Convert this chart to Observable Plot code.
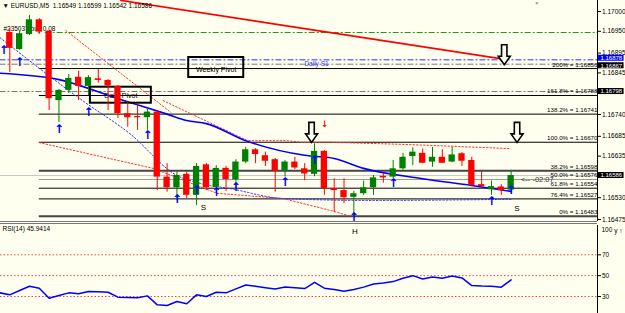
<!DOCTYPE html>
<html><head><meta charset="utf-8">
<script src="https://cdn.jsdelivr.net/npm/d3@7"></script>
<script src="https://cdn.jsdelivr.net/npm/@observablehq/plot@0.6"></script>
<style>
body{margin:0;background:#fffff0;width:625px;height:313px;overflow:hidden;font-family:"Liberation Sans",Arial,sans-serif;position:relative}
#main,#rsi{position:absolute;left:0}
#main{top:0}
#rsi{top:225px}
#sep{position:absolute;left:0;top:221px;width:597px;height:0;border-top:3px double #777}
svg{overflow:visible}
</style></head><body>
<div id="main"></div><div id="sep"></div><div id="rsi"></div>
<script>
// ---------- data ----------
const barIndex = [0,1,2,3,4,5,6,7,8,9,10,11,12,13,14,15,16,17,18,19,20,21,22,23,24,25,26,27,28,29,30,31,32,33,34,35,36,37,38,39,40,41,42,43,44,45,46,47,48,49,50,51];
const openP  = [1.16947,1.16904,1.16942,1.16979,1.16950,1.16775,1.16801,1.16834,1.16811,1.16830,1.16826,1.16811,1.16742,1.16735,1.16732,1.16746,1.16582,1.16555,1.16589,1.16536,1.16613,1.16556,1.16604,1.16575,1.16620,1.16651,1.16636,1.16626,1.16599,1.16620,1.16603,1.16589,1.16647,1.16553,1.16548,1.16531,1.16540,1.16555,1.16584,1.16582,1.16603,1.16634,1.16642,1.16620,1.16632,1.16620,1.16641,1.16624,1.16563,1.16550,1.16557,1.16549];
const highP  = [1.16957,1.16950,1.16990,1.16982,1.16952,1.16803,1.16841,1.16849,1.16838,1.16854,1.16828,1.16813,1.16771,1.16768,1.16755,1.16748,1.16616,1.16594,1.16594,1.16616,1.16616,1.16611,1.16609,1.16626,1.16657,1.16654,1.16645,1.16629,1.16624,1.16632,1.16616,1.16666,1.16649,1.16578,1.16578,1.16546,1.16572,1.16586,1.16591,1.16624,1.16642,1.16656,1.16653,1.16657,1.16651,1.16657,1.16644,1.16632,1.16599,1.16572,1.16563,1.16599];
const lowP   = [1.16846,1.16902,1.16939,1.16942,1.16750,1.16720,1.16793,1.16775,1.16788,1.16819,1.16750,1.16730,1.16708,1.16700,1.16700,1.16548,1.16544,1.16523,1.16528,1.16510,1.16548,1.16541,1.16546,1.16553,1.16616,1.16616,1.16609,1.16544,1.16582,1.16601,1.16573,1.16583,1.16536,1.16493,1.16515,1.16483,1.16536,1.16536,1.16567,1.16578,1.16599,1.16611,1.16616,1.16607,1.16616,1.16618,1.16609,1.16558,1.16556,1.16536,1.16536,1.16542];
const closeP = [1.16907,1.16944,1.16979,1.16948,1.16780,1.16801,1.16831,1.16811,1.16833,1.16826,1.16812,1.16742,1.16732,1.16732,1.16746,1.16582,1.16555,1.16586,1.16536,1.16609,1.16555,1.16604,1.16576,1.16620,1.16651,1.16639,1.16622,1.16597,1.16620,1.16605,1.16590,1.16647,1.16553,1.16548,1.16530,1.16540,1.16555,1.16580,1.16580,1.16603,1.16632,1.16645,1.16617,1.16632,1.16617,1.16638,1.16622,1.16561,1.16558,1.16558,1.16548,1.16586];

// RSI(14)
const rsiIndex = [-1,0,1,2,3,4,5,6,7,8,9,10,11,12,13,14,15,16,17,18,19,20,21,22,23,24,25,26,27,28,29,30,31,32,33,34,35,36,37,38,39,40,41,42,43,44,45,46,47,48,49,50,51];
const rsiValue = [33.5,31.6,35.7,39.8,37.9,28.4,31,33.5,32.6,34.8,34.6,34.1,29.4,29,28.7,30.6,22,21.4,25.2,23,31.6,30,34.1,33.5,37.3,41.1,39.8,38.5,37.3,39.2,38.5,37.6,43.6,38,36.7,35,36.7,39,42,43,44.3,47.5,50,46.8,48.7,47.5,49.7,47.8,40.5,40,39.8,38.9,45.94];
const rsiLevels = [70,50,30];

// moving average (solid blue)
const maIndex = [-1,5,11,16,18,20,24,30,33,36,42,47,51];
const maValue = [1.16844,1.16828,1.16780,1.16741,1.16725,1.16717,1.16674,1.16637,1.16629,1.16604,1.16578,1.16561,1.16546];
// lower dotted blue channel
const blueDotIndex = [-1,7.4,12.3,17,19.4,22.4,27.8,36.4,51];
const blueDotValue = [1.16934,1.16775,1.16690,1.16586,1.16566,1.16553,1.16528,1.16523,1.16526];
// red dotted lines
const redLowIndex = [3,14.6,21.1,27.8,32.6,34.7];
const redLowValue = [1.16669,1.16604,1.16541,1.16528,1.16498,1.16483];
const redUpIndex = [15.6,24.2,28.2,29.6,32.6,40.8,50.9];
const redUpValue = [1.16775,1.16674,1.16674,1.16670,1.16670,1.16664,1.16654];
const redSteepIndex = [5.7,16.4];
const redSteepValue = [1.16952,1.16745];
// red trend line
const trendIndex = [11.3,49.9];
const trendValue = [1.17028,1.16881];

// Fibonacci levels
const fibName  = ["200%","161.8%","138.2%","100.0%","38.2%","50.0%","61.8%","76.4%","0%"];
const fibPrice = [1.16856,1.16788,1.16741,1.16670,1.16598,1.16576,1.16554,1.16527,1.16483];
const fibStart = 3;
// pivot lines
const pivotPrice = [1.16947,1.16878,1.16867,1.16798];
const pivotColor = ["#1a9a1a","#3333ff","#777777","#777777"];
const pivotStart = [3.6,-1,-1,-1];
// axis
const priceTicks = [1.17000,1.16950,1.16895,1.16845,1.16740,1.16685,1.16635,1.16530,1.16475];
const priceBoxes = [1.16878,1.16867,1.16798,1.16586];
const priceBoxColor = ["#0000ff","#000","#000","#000"];
const bidPrice = 1.16586;
// markers
const upArrowIndex = [-0.62,1,5,8,14,17,19,21,23,28,31,35,39,49,51];
const upArrowPrice = [1.16902,1.16871,1.16703,1.16746,1.16687,1.16527,1.16548,1.16543,1.16557,1.16570,1.16625,1.16480,1.16567,1.16521,1.16548];
const bigArrowIndex = [30.7,50.3,51.6];
const bigArrowPrice = [1.16695,1.16891,1.16695];
const labelIndex = [19.7,51.6,35.1];
const labelPrice = [1.16506,1.16503];

const W = 625, plotRight = 597;
const xDomain = [-9.3/9.83, (plotRight-9.3)/9.83];
const pAt = y => 1.17 - (y - 11) / 39619;          // pixel helper for annotation placement
const yDomain = [pAt(221), pAt(0)];

const RED = "#ff0000", GREEN = "#008000";
const candles = barIndex.map((i,k)=>({i, o:openP[k], h:highP[k], l:lowP[k], c:closeP[k], up: closeP[k] > openP[k]}));
const pts = (xs, ys) => xs.map((x,k)=>({x, y: ys[k]}));
const font = "Liberation Sans, Arial, sans-serif";

// hollow "down" arrow symbol
const hollowDown = {
  draw(ctx, size) {
    const r = Math.sqrt(size / Math.PI);
    ctx.moveTo(-0.27*r, -r);
    ctx.lineTo(0.27*r, -r);
    ctx.lineTo(0.27*r, 0.15*r);
    ctx.lineTo(0.6*r, 0.15*r);
    ctx.lineTo(0, r);
    ctx.lineTo(-0.6*r, 0.15*r);
    ctx.lineTo(-0.27*r, 0.15*r);
    ctx.closePath();
  }
};
// box offsets so the two stacked price boxes sit one above the other
const boxOffset = [0.00004, -0.00004, 0, 0];

const main = Plot.plot({
  width: W, height: 221,
  marginLeft: 0, marginRight: W - plotRight, marginTop: 0, marginBottom: 0,
  style: {background: "transparent", fontFamily: font, fontSize: "6.5px", color: "#000", overflow: "visible"},
  x: {domain: xDomain, axis: null},
  y: {domain: yDomain, axis: null},
  marks: [
    Plot.ruleY([bidPrice], {stroke: "#c8c8c8", strokeWidth: 1}),
    Plot.ruleY(pivotPrice, {y: d=>d, x1: (d,k)=>pivotStart[k], x2: xDomain[1], stroke: (d,k)=>pivotColor[k], strokeDasharray: "6,2,2,2", strokeWidth: 1}),
    Plot.ruleY(fibPrice, {y: d=>d, x1: fibStart, x2: xDomain[1], stroke: (d,k)=> (k===4||k===8) ? "#444" : (k===5 ? "#999" : "#000"), strokeWidth: (d,k)=> (k===4||k===8) ? 2 : 1}),
    Plot.text(fibPrice, {y: d=>d, x: xDomain[1], text: (d,k)=> `${fibName[k]} = ${d.toFixed(5)}`, textAnchor: "end", dy: -4, fontSize: 6.2, fill: "#000"}),
    Plot.line(pts(redSteepIndex, redSteepValue), {x:"x", y:"y", stroke: "#ff3030", strokeDasharray: "1.5,2", strokeWidth: 1}),
    Plot.line(pts(redUpIndex, redUpValue), {x:"x", y:"y", stroke: "#ff3030", strokeDasharray: "1.5,2", strokeWidth: 1}),
    Plot.line(pts(redLowIndex, redLowValue), {x:"x", y:"y", stroke: "#ff3030", strokeDasharray: "1.5,2", strokeWidth: 1}),
    Plot.line(pts(blueDotIndex, blueDotValue), {x:"x", y:"y", stroke: "#3030ff", strokeDasharray: "1.5,2", strokeWidth: 1, curve: "monotone-x"}),
    Plot.line(pts(maIndex, maValue), {x:"x", y:"y", stroke: "#0000ff", strokeWidth: 1.6, curve: "monotone-x"}),
    Plot.line(pts(trendIndex, trendValue), {x:"x", y:"y", stroke: "#ff0000", strokeWidth: 1.6}),
    Plot.rect([{x1: 18.2, x2: 23.8, y1: pAt(77), y2: pAt(57)}, {x1: 8.2, x2: 14.4, y1: pAt(102.7), y2: pAt(86.7)}], {x1:"x1", x2:"x2", y1:"y1", y2:"y2", fill: "none", stroke: "#000", strokeWidth: 2}),
    Plot.text(["Weekly Pivot"], {x: 21, y: pAt(69), fontSize: 7, fill: "#000"}),
    Plot.text(["Daily Pivot"], {x: 11.3, y: pAt(95), fontSize: 7, fill: "#000"}),
    Plot.text(["Daily S1"], {x: 31.2, y: pAt(63.5), fontSize: 6.5, fill: "#3333ff"}),
    Plot.text(["#235037 buy 0.08"], {x: -0.65, y: pAt(28.3), textAnchor: "start", fontSize: 6.5, fill: "#000"}),
    Plot.ruleX(candles, {x: "i", y1: "l", y2: "h", stroke: d=> d.up ? GREEN : RED, strokeWidth: 1}),
    Plot.rect(candles, {x1: d=>d.i-0.32, x2: d=>d.i+0.32, y1: "o", y2: "c", fill: d=> d.up ? GREEN : RED}),
    Plot.text(upArrowIndex, {x: d=>d, y: (d,k)=>upArrowPrice[k], text: ()=>"↑", fontSize: 12, fontWeight: "bold", fill: "#0000ff", fontFamily: "DejaVu Sans"}),
    Plot.dot(bigArrowIndex, {x: d=>d, y: (d,k)=>bigArrowPrice[k], symbol: hollowDown, r: 10, fill: "#fffff0", stroke: "#000", strokeWidth: 1.6}),
    Plot.text([32.05], {x: d=>d, y: pAt(123.3), text: ()=>"↓", fontSize: 9, fontWeight: "bold", fill: "#ff0000", fontFamily: "DejaVu Sans"}),
    Plot.text(["S","S"], {x: (d,k)=>labelIndex[k], y: (d,k)=>labelPrice[k], fontSize: 8, fill: "#000"}),
    Plot.text(["<-- -02:07"], {x: 52, y: pAt(179.5), textAnchor: "start", fontSize: 7.5, fill: "#333"}),
    Plot.text(["▼ EURUSD,M5\u00a0\u00a01.16549 1.16599 1.16542 1.16586"], {frameAnchor: "top-left", dx: 2, dy: 3, fontSize: 6.5, fill: "#000"}),
    Plot.text(["▼"], {x: 53.6, y: pAt(3), fontSize: 5, fill: "#999"}),
    Plot.ruleX([xDomain[1]], {stroke: "#000"}),
    Plot.axisY(priceTicks, {anchor: "right", tickSize: 3, tickPadding: 1.5, tickFormat: d=>d.toFixed(5), fontSize: 6.5}),
    Plot.rect(priceBoxes, {x1: xDomain[1], x2: xDomain[1]+2.6, y1: (d,k)=>d+boxOffset[k]-0.000076, y2: (d,k)=>d+boxOffset[k]+0.000076, fill: (d,k)=>priceBoxColor[k], dx: 1}),
    Plot.text(priceBoxes, {x: xDomain[1], y: (d,k)=>d+boxOffset[k], text: d=>d.toFixed(5), dx: 3, textAnchor: "start", fill: "#fff", fontSize: 6})
  ]
});
document.getElementById("main").append(main);

const rsi = Plot.plot({
  width: W, height: 88,
  marginLeft: 0, marginRight: W - plotRight, marginTop: 0, marginBottom: 0,
  style: {background: "transparent", fontFamily: font, fontSize: "6.5px", color: "#000", overflow: "visible"},
  x: {domain: xDomain, axis: null},
  y: {domain: [13.7, 98.1], axis: null},
  marks: [
    Plot.ruleY(rsiLevels, {x1: xDomain[0], x2: xDomain[1], stroke: "#ff4040", strokeDasharray: "1.5,2", strokeWidth: 1}),
    Plot.line(pts(rsiIndex, rsiValue), {x:"x", y:"y", stroke: "#0000ff", strokeWidth: 1.5}),
    Plot.ruleX([xDomain[1]], {stroke: "#000"}),
    Plot.axisY(rsiLevels, {anchor: "right", tickSize: 3, tickPadding: 1.5, fontSize: 6.5}),
    Plot.text(["100"], {frameAnchor: "top-right", dx: 4, dy: 2, textAnchor: "start", fontSize: 6.5, fill: "#000"}),
    Plot.text(["RSI(14) 45.9414"], {frameAnchor: "top-left", dx: 2, dy: 1, fontSize: 6.5, fill: "#000"}),
    Plot.text(["H"], {x: labelIndex[2], frameAnchor: "top", dy: 3, fontSize: 8, fill: "#000"})
  ]
});
document.getElementById("rsi").append(rsi);
</script></body></html>
